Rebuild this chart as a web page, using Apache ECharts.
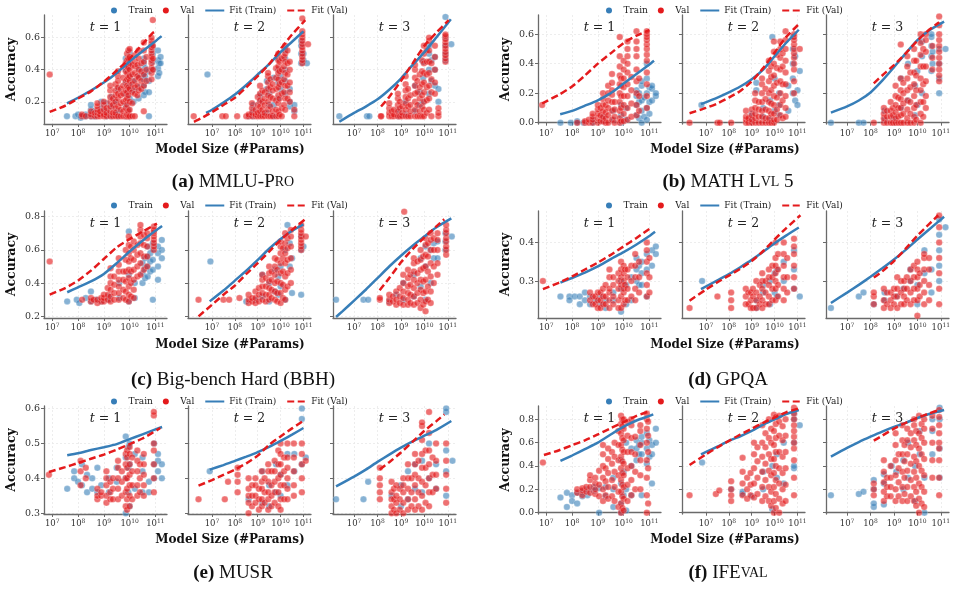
<!DOCTYPE html>
<html>
<head>
<meta charset="utf-8">
<script src="https://cdn.jsdelivr.net/npm/echarts@6/dist/echarts.min.js"></script>
<style>
  html, body { margin: 0; padding: 0; background: #fff; }
  #chart { width: 957px; height: 601px; }
</style>
</head>
<body>
<div id="chart"></div>
<script>
// each column: [log10(#params), accuracy %, accuracy %, ...]; one list per t = 1, 2, 3
const mmluTrain = [
  [[7.57,11],[7.9,11],[8.0,12],[8.1,10,11],[8.2,11],[8.3,11,12],[8.5,11,15,18],[8.6,11,14],[8.7,11,13],[8.9,12,16,20],[9.1,11,14,19],[9.3,11,17,23],[9.45,12,20],[9.55,11,14,28],[9.85,11,18,25,32,40,47],[9.95,15,28,42],[10.0,11,22,30,36,44,51],[10.15,20,27,33],[10.35,22,29,36,41],[10.55,24,30,34,38,44,47],[10.6,26,36,41],[10.75,11,26,33,39],[10.9,40,45,50,54],[11.1,36,41,46,52],[11.15,38,44],[11.2,44,48]],
  [[6.8,37],[8.6,11],[8.8,11,14,18],[9.1,12,20,24],[9.4,13,28,33],[9.5,18,25],[9.7,11,18,35],[9.9,22,32,40,47],[10.0,28,36],[10.2,25,33,40,47,52],[10.4,17,20,28],[10.6,14,18],[10.9,44,50,55,58],[11.0,46,50],[11.15,44]],
  [[6.37,11],[7.55,11],[7.65,11],[8.9,11,15],[9.2,12,20],[9.6,14,30],[9.8,18,26],[9.95,20,35,45],[10.2,25,40,50,55],[10.3,33,46],[10.45,30,40,48],[10.6,20,28],[10.9,46,50,55,60,73],[11.15,56]]
];
const mmluVal = [
  [[6.9,37],[8.15,11,12],[8.3,11],[8.5,11,12,14],[8.65,11,13],[8.75,11,13,15,17,19],[8.85,11,12,14],[9.0,11,12,15,18,20],[9.1,11,13,16],[9.25,11,14,17,20,23,27,30],[9.35,11,13,18,22],[9.45,11,13,16,20,24,27,31],[9.55,11,17,22,25,29,33,36,39],[9.65,11,15,19,24,28],[9.75,11,14,20,25,30,35],[9.85,11,16,21,27,33,39,44],[9.9,11,12,18,22,26,30,34,38,42,46,50],[9.95,11,14,24,29,35,41,47,52],[10.0,11,15,20,28,33,36,40,44,48,53],[10.1,11,19,26,31,37,43],[10.2,11,25,29,33,38,42,45,49],[10.3,24,30,36,43],[10.35,27,35,40,47,52],[10.45,28,33,39,44],[10.55,14,30,37,45,52,57],[10.65,33,40,48],[10.85,34,38,41,44,46,48,50,52,54,56,58,60],[10.9,40,47,55,71]],
  [[6.2,11],[7.45,11],[7.6,11],[8.1,11],[8.5,11],[8.6,11,12],[8.75,11,13,16,19],[8.9,11,12,15],[9.0,11,13,18,23],[9.1,11,14,17,21,25,30],[9.2,11,15,20,27],[9.3,11,13,18,22,26],[9.45,11,15,20,24,28,32,36,38],[9.55,11,17,23,29,34],[9.65,11,14,22,27,31],[9.8,11,15,21,28,35,41],[9.9,11,14,19,24,29,34,38,42,46,50],[9.95,12,22,31,39,45],[10.05,11,16,25,32,40,47],[10.15,18,26,34,42,48],[10.2,15,22,30,38,45,50,55],[10.3,22,30,37,44,52],[10.4,20,26,32,40,45],[10.6,11,15],[10.95,44,46,48,50,52,54,56,58,60,62,64,72],[11.2,56]],
  [[8.15,11,11],[8.5,11,13,16,19],[8.6,11,14],[8.7,11,12,15],[8.87,11,14,18,22,25],[8.95,11,16,20],[9.05,11,13,17],[9.2,11,15,19,23,27,31,36],[9.3,11,17,22,28],[9.4,11,14,18,24],[9.6,11,15,20,25,30,35,40,43],[9.7,11,18,26,33],[9.8,11,14,22,29,37],[9.9,11,17,24,31,39,46],[9.98,11,15,20,26,32,38,44,50,55],[10.1,13,21,29,37,45,52],[10.2,15,22,30,38,45,52,58,60],[10.3,11,26,34,44],[10.45,25,32,40,48,55],[10.6,11,13,16],[10.9,45,47,49,51,53,55,57,59,61,62]]
];
const mmluFitTrain = [
  [[7.57,.19],[8.0,.225],[8.5,.27],[9.0,.32],[9.5,.38],[10.0,.452],[10.5,.515],[11.0,.578],[11.24,.61]],
  [[6.74,.13],[7.0,.15],[7.5,.195],[8.0,.245],[8.5,.305],[9.0,.37],[9.5,.435],[10.0,.51],[10.5,.575],[11.0,.64]],
  [[6.37,.075],[7.0,.13],[7.5,.17],[8.0,.215],[8.5,.275],[9.0,.345],[9.5,.43],[10.0,.51],[10.5,.6],[11.13,.715]]
];
const mmluFitVal = [
  [[6.9,.137],[7.5,.175],[8.0,.22],[8.5,.265],[9.0,.325],[9.5,.395],[10.0,.47],[10.5,.56],[10.9,.63],[11.0,.64]],
  [[6.21,.075],[6.5,.095],[7.0,.135],[7.5,.18],[8.0,.225],[8.5,.29],[9.0,.36],[9.5,.435],[10.0,.53],[10.5,.62],[11.08,.71]],
  [[8.15,.17],[8.5,.23],[9.0,.33],[9.5,.44],[10.0,.55],[10.5,.63],[11.04,.71]]
];

const mathTrain = [
  [[7.55,0],[7.95,0],[8.2,0,1],[8.45,0],[8.8,0,2],[9.2,1,4],[9.6,2,8],[9.9,0,5,12],[10.1,2,10],[10.5,5,12,18,22],[10.6,3,14,20],[10.7,0,8,15,25,28],[10.8,4,17],[10.9,2,10,20,30,40],[11.0,6,14,24],[11.1,15,23,25],[11.25,18,20]],
  [[6.8,12],[9.0,2,6],[9.2,22,27],[9.5,4,10],[9.8,2,15],[9.9,58],[10.0,8,30],[10.2,5,12,20],[10.6,8,25],[10.8,20,30,40,50,58],[10.9,15,45],[11.0,12,22],[11.1,35]],
  [[6.31,0],[7.5,0],[7.7,0],[8.6,2,8],[9.0,3],[9.3,10,30],[9.6,15,40],[9.9,5,25],[10.0,12,35],[10.2,20,45,55],[10.6,35,45,52,58,60],[10.65,40,48],[10.93,20,30,40,50],[11.2,50]]
];
const mathVal = [
  [[6.84,12],[8.2,0],[8.5,0,1],[8.65,0,2],[8.8,0,2,4,6],[9.0,0,3,6,9,12],[9.1,1,5,10],[9.2,1,4,8,12,16,20],[9.3,0,3,7,12],[9.4,0,5,10,15,20,25],[9.55,2,8,14,19,22,27,33],[9.65,0,4,9,14],[9.85,0,3,8,14,20,26,32,38,45,58],[9.9,1,10,18,25,30],[10.0,1,6,12,18,24,30,36,42],[10.15,2,10,18,26,34,40,45,50,55],[10.3,4,13,22,31],[10.5,5,12,20,28,36,45,50,55,62],[10.6,8,18,30],[10.9,10,18,26,34,42,46,50,53,56,58,60,62]],
  [[6.28,0],[7.5,0],[7.6,0],[8.1,0],[8.75,0,2,4,8],[8.85,0,3],[9.0,0,2,5,9],[9.15,0,3,6,10,15,20],[9.3,0,4,9,14],[9.45,0,4,8,14,20,26,30],[9.6,0,3,9,16,23],[9.75,0,3,8,14,20,28,35,42],[9.85,0,6,13,22,31,38],[9.97,0,2,6,12,18,25,32,40,48,55],[10.1,2,9,17,27,37,46],[10.25,5,12,20,28,36,44,50,55],[10.35,3,15,26,38,47],[10.48,4,10,18,26,34,42,50,56,62],[10.85,20,28,36,40,44,47,50,53,56,58,60],[11.1,50]],
  [[8.14,0],[8.57,0,3,6,10],[8.7,0,4,8],[8.86,0,4,8,14],[8.95,0,5,10],[9.07,0,3,7,12,18,25],[9.18,0,4,10,17],[9.29,0,5,10,16,22,30,53],[9.4,0,6,13,20,27],[9.57,0,3,9,15,22,30,38,45],[9.7,0,6,14,24,34],[9.86,0,4,10,18,26,34,42,50],[9.95,2,12,22,32,42],[10.14,0,6,14,22,30,38,46,54,60],[10.25,4,14,26,38,50],[10.36,10,18,28,38,48,56,60],[10.64,36,44,52],[10.93,28,32,36,40,44,48,52,56,60,66,72]]
];
const mathFitTrain = [
  [[7.54,.057],[8.0,.08],[8.5,.115],[9.0,.152],[9.5,.2],[10.0,.265],[10.5,.33],[11.0,.395],[11.18,.42]],
  [[6.78,.126],[7.5,.17],[8.0,.205],[8.5,.245],[9.0,.295],[9.5,.36],[10.0,.45],[10.5,.54],[11.06,.63]],
  [[6.31,.068],[7.0,.11],[7.5,.15],[8.0,.205],[8.5,.285],[9.0,.376],[9.5,.47],[10.0,.56],[10.5,.625],[11.14,.685]]
];
const mathFitVal = [
  [[6.84,.13],[7.0,.145],[7.5,.19],[8.0,.245],[8.5,.32],[9.0,.4],[9.5,.47],[10.0,.54],[10.5,.59],[11.0,.628]],
  [[6.28,.064],[7.0,.1],[7.5,.13],[8.0,.17],[8.5,.215],[9.0,.28],[9.5,.37],[10.0,.475],[10.5,.58],[11.06,.668]],
  [[8.14,.267],[8.5,.32],[9.0,.39],[9.5,.47],[10.0,.555],[10.5,.63],[10.93,.68]]
];

const bbhTrain = [
  [[7.58,29],[7.95,30],[8.05,28],[8.3,31],[8.5,35,29],[8.7,30],[8.9,29],[9.2,30,32],[9.6,31,40],[9.97,29,45,71],[10.2,31,40],[10.5,40,46,52],[10.6,43,49,55],[10.7,44,50,56,62],[10.8,47,53,58],[10.9,30,48,54,60,64],[11.1,42,50,58,62],[11.25,55,60,66]],
  [[6.93,53],[8.5,29],[8.9,30],[9.2,32,45],[9.5,29,40],[9.75,35,48],[9.9,33,44],[10.0,38,50],[10.2,30,60],[10.3,75],[10.4,50,64],[10.5,34,55],[10.9,33,60,68],[11.0,62]],
  [[6.23,30],[7.4,30],[7.6,30],[8.5,29],[8.8,33],[9.1,30,40],[9.55,32,45],[9.84,38,55],[10.05,30,50,62],[10.27,40,60],[10.4,55,64],[10.56,55,65],[10.9,60,65,70],[11.17,68]]
];
const bbhVal = [
  [[6.9,53],[8.16,30],[8.5,29,31],[8.6,30],[8.75,28,30],[8.9,29,31],[9.0,29,31,33],[9.15,30,33,37],[9.26,29,32,36,40,44,49],[9.4,30,34,39,44],[9.58,30,34,38,42,47,51,55],[9.75,31,36,42,47],[9.85,30,35,41,47,54,60],[9.97,29,33,38,43,48,53,58,63,68],[10.05,32,40,47,55,62],[10.16,31,36,42,48,54,60,65],[10.3,44,50,57,63],[10.42,45,52,58,64,68,72,75],[10.55,48,56,63,69],[10.68,50,56,62,67,70],[10.94,60,62,64,66,68,70,71,72,74]],
  [[6.41,30],[7.5,30],[7.75,30],[8.2,31],[8.6,28,30,33],[8.75,29,31],[8.9,28,31,35],[9.05,29,33,37],[9.2,30,34,38,42,45],[9.35,29,33,38,43],[9.5,30,33,37,41,46,50],[9.6,31,36,42,47],[9.75,30,35,40,45,50,55],[9.85,29,34,41,48,54],[10.0,28,34,40,46,52,58,62,65],[10.1,31,39,47,55,61],[10.2,30,36,44,52,58,64,70],[10.3,38,46,54,61,67],[10.45,40,48,55,62,68,72],[10.9,60,62,64,66,68,70,72,75],[11.1,68]],
  [[8.1,30,31],[8.5,28,30,33],[8.65,29,32],[8.8,27,30,35],[8.95,28,32,37],[9.1,27,31,35,40,45],[9.14,83],[9.3,27,30,34,38,43,48],[9.4,28,33,39,45],[9.55,27,32,37,42,47,52,55],[9.7,28,34,40,46,53],[9.84,25,30,36,42,48,54,60],[9.95,27,34,41,49,56],[10.05,23,29,35,42,50,57,63,67],[10.15,30,38,47,56,64],[10.27,28,35,44,52,60,66,70],[10.4,40,50,60,67],[10.56,45,52,60,66,70],[10.93,57,60,62,65,67,70,72,75]]
];
const bbhFitTrain = [
  [[7.58,.345],[8.0,.375],[8.5,.41],[9.0,.455],[9.5,.52],[10.0,.59],[10.5,.655],[11.0,.715],[11.26,.744]],
  [[6.9,.29],[7.5,.355],[8.0,.415],[8.5,.475],[9.0,.54],[9.5,.607],[10.0,.665],[10.5,.715],[11.0,.754]],
  [[6.23,.196],[6.5,.23],[7.0,.295],[7.5,.36],[8.0,.43],[8.5,.5],[9.0,.565],[9.5,.625],[10.0,.68],[10.5,.735],[11.15,.79]]
];
const bbhFitVal = [
  [[6.9,.331],[7.5,.37],[8.0,.415],[8.5,.475],[9.0,.545],[9.5,.615],[10.0,.665],[10.5,.71],[11.06,.758]],
  [[6.41,.2],[7.0,.27],[7.5,.33],[8.0,.385],[8.5,.455],[9.0,.52],[9.5,.59],[10.0,.66],[10.5,.72],[11.07,.784]],
  [[8.09,.357],[8.5,.43],[9.0,.525],[9.5,.605],[10.0,.675],[10.5,.74],[10.85,.784]]
];

const gpqaTrain = [
  [[7.55,26],[7.9,26,25],[8.1,26],[8.3,24,26],[8.5,25,27],[8.7,26,24],[8.9,25],[9.1,24,26],[9.3,25,23],[9.6,25,27],[9.9,22,28,30],[10.1,24,29],[10.3,25,31],[10.5,30,33,36],[10.6,29,34],[10.7,29,32,35],[10.9,26,33,37],[11.1,34,38],[11.25,37,39]],
  [[6.83,30],[9.2,23,25],[9.5,27,29],[9.8,24,30],[10.0,27,32],[10.1,26,33],[10.4,30,35],[10.85,28,33,38],[11.1,26]],
  [[6.31,23],[7.5,26],[7.7,27],[8.14,24],[8.6,25,27],[9.1,26],[9.4,28],[9.7,30,33],[10.0,24,29],[10.3,32,38],[10.6,27,33],[10.93,30,34,38,42,46],[11.2,44]]
];
const gpqaVal = [
  [[6.87,30],[8.7,25,27],[8.8,24,26],[8.9,24,26],[9.0,23,25,27],[9.1,23,25,27],[9.2,24,26,28],[9.3,24,26,29],[9.45,23,25,27,28,31,33],[9.6,24,26,29,31],[9.8,23,25,28,30,32],[9.9,23,26,29,31,33,35],[10.0,24,27,28,30,32,34],[10.05,25,29,33],[10.15,25,28,31,33],[10.3,26,30,34],[10.45,25,28,31,34,37],[10.6,27,31,35],[10.9,26,29,32,35,38,40],[11.0,27,31,36]],
  [[6.28,23],[7.5,26],[8.1,23,25,27],[8.74,24,26,28],[8.85,24,27],[8.96,23,25,27],[9.05,23,26,28],[9.2,23,25,27,30],[9.35,24,26,29],[9.46,23,25,28,30,32],[9.6,24,27,30],[9.75,24,26,29,31,33],[9.9,25,28,31,34],[10.04,25,28,30,32,34,36,40],[10.15,26,29,33,37],[10.4,25,28,31,34,37,40],[10.55,27,31,36],[10.85,28,31,34,37,39,41]],
  [[8.14,24,26,27],[8.57,23,25,28],[8.7,24,27],[8.86,23,25,27],[9.0,24,26,28],[9.14,23,26,28,31],[9.3,24,27,30],[9.43,24,26,28,30],[9.55,25,28,31],[9.71,24,27,30,33],[9.85,25,28,31,34],[10.0,21,25,28,31,33,35],[10.1,26,29,32],[10.29,24,27,30,33,36,37],[10.5,25,29,33,36],[10.93,24,28,32,36,40,44,47]]
];
const gpqaFitTrain = [
  [[7.55,.296],[8.0,.308],[8.5,.322],[9.0,.338],[9.5,.357],[10.0,.375],[10.5,.395],[11.0,.417],[11.22,.428]],
  [[6.78,.279],[7.5,.302],[8.0,.318],[8.5,.336],[9.0,.355],[9.5,.376],[10.0,.398],[10.5,.418],[11.06,.439]],
  [[6.31,.243],[7.0,.27],[7.5,.29],[8.0,.311],[8.5,.333],[9.0,.356],[9.5,.381],[10.0,.408],[10.5,.434],[11.14,.467]]
];
const gpqaFitVal = [
  [[6.87,.279],[7.5,.296],[8.0,.312],[8.5,.33],[9.0,.348],[9.5,.368],[10.0,.39],[10.5,.412],[11.03,.437]],
  [[6.28,.249],[7.0,.278],[7.5,.297],[8.0,.314],[8.5,.332],[9.0,.352],[9.5,.378],[10.0,.408],[10.5,.437],[11.13,.471]],
  [[8.14,.309],[8.5,.325],[9.0,.352],[9.5,.384],[10.0,.418],[10.5,.448],[10.89,.471]]
];

const musrTrain = [
  [[7.58,37],[7.85,40,42],[8.0,39],[8.15,38,44],[8.35,36,41],[8.55,37,40],[8.75,36,43],[8.9,38],[9.2,36,40],[9.5,39,43],[9.85,30,40,46,52],[9.95,36,43,49],[10.0,32,44,50],[10.2,37,47],[10.5,36,42,46],[10.75,36,39],[10.95,40,44,50],[11.1,42,45,47],[11.25,40,44]],
  [[6.9,42],[8.6,34],[9.2,33,42],[9.5,32,38],[9.8,36,44],[10.0,35,41],[10.3,38,47],[10.6,42,47],[10.93,44,57,60],[11.1,46]],
  [[6.23,34],[7.4,34],[7.6,39],[8.6,35],[9.0,32,38],[9.3,34,42],[9.6,37,44],[9.9,36,45],[10.2,40,50],[10.5,37,44],[10.93,35,42,48,59,60],[11.2,45]]
];
const musrVal = [
  [[6.87,41],[8.1,38,42,45],[8.3,40,43],[8.75,34,35,37],[8.9,35,36],[9.1,33,35,38,40,42],[9.25,34,36,39],[9.35,34,37,40],[9.55,34,37,40,43,45],[9.7,35,39,42],[9.85,32,36,40,44,47],[9.9,31,34,37,40,43,46,48],[10.0,32,35,38,41,44,47,49],[10.1,34,38,42,46],[10.3,35,38,42,45,48],[10.4,36,40,44],[10.55,35,38,41,44,47],[10.94,36,40,44,48,50,58,59]],
  [[6.41,34],[7.56,34],[7.7,39],[8.12,36,39,41,43],[8.6,30,33,35,37,40],[8.75,32,35,38],[8.9,33,35,38,40],[9.05,31,34,37],[9.18,32,34,37,39,42],[9.3,33,36,40],[9.46,31,34,36,39,42,44],[9.6,32,35,38,42],[9.74,33,36,39,42,45],[9.9,32,36,40,44,48],[10.0,31,34,38,41,44,47,50],[10.15,34,38,42,46],[10.3,34,37,40,43,46,50],[10.58,35,38,42,46,50],[10.93,36,40,44,47,50],[11.1,45]],
  [[8.1,34,36,38,40,43],[8.6,30,32,34,36,39],[8.7,31,34,37],[8.8,30,33,35,38],[8.95,31,34,37],[9.1,30,33,36,38,40],[9.3,31,34,37,40,44],[9.45,32,36,40],[9.6,31,34,38,41,44,47],[9.75,32,36,40,45],[9.9,31,35,39,43,47,51,55,56],[10.05,33,38,43,48],[10.2,32,36,40,44,48,53,59],[10.35,36,41,46],[10.5,37,41,45,50],[10.93,33,37,41,45,50]]
];
const musrFitTrain = [
  [[7.58,.466],[8.0,.472],[8.5,.481],[9.0,.489],[9.5,.498],[10.0,.512],[10.5,.526],[11.0,.54],[11.26,.547]],
  [[6.9,.425],[7.5,.438],[8.0,.45],[8.5,.462],[9.0,.475],[9.5,.49],[10.0,.507],[10.5,.525],[11.0,.544]],
  [[6.23,.377],[7.0,.405],[7.5,.425],[8.0,.447],[8.5,.468],[9.0,.488],[9.5,.506],[10.0,.522],[10.5,.538],[11.15,.564]]
];
const musrFitVal = [
  [[6.87,.418],[7.5,.432],[8.0,.444],[8.5,.456],[9.0,.468],[9.5,.482],[10.0,.498],[10.5,.514],[11.19,.544]],
  [[6.41,.379],[7.0,.395],[7.5,.41],[8.0,.425],[8.5,.443],[9.0,.465],[9.5,.496],[10.0,.52],[10.5,.543],[11.0,.565]],
  [[8.09,.425],[8.5,.446],[9.0,.474],[9.5,.505],[10.0,.536],[10.5,.563],[10.85,.583]]
];

const ifevalTrain = [
  [[7.55,13],[7.8,5,17],[8.0,15,10],[8.2,17,8],[8.4,18,14],[8.6,20,15],[8.85,22,19],[9.05,0,21],[9.3,14,22],[9.6,5,20,30],[9.9,0,8,25,45],[10.0,15,35],[10.1,2,20,60],[10.3,15,40,55],[10.5,45,55,62],[10.6,50,58],[10.7,15,50,60,65],[10.9,42,55,68],[11.0,48,62],[11.1,25,50,58],[11.25,60,72]],
  [[6.83,43],[8.1,20],[8.6,16,18],[9.0,14],[9.5,20,35],[9.9,3,40],[10.1,30,50],[10.4,25,60],[10.85,38,40,60,80,85],[11.1,75]],
  [[6.31,15],[7.5,16],[7.7,18],[8.14,5,8,20,28],[8.57,7,25,33],[8.9,40],[9.1,35],[9.4,20,45],[9.6,30,60],[9.9,10,40],[10.1,50,70],[10.3,0,30],[10.64,50,70,80],[10.95,30,55,80,90]]
];
const ifevalVal = [
  [[6.87,43],[8.2,17,20],[8.4,15,19,21],[8.55,18,22],[8.7,17,22,28,32],[8.9,16,20,25,30],[9.05,14,24,36],[9.2,10,20,30,40,50,58],[9.3,15,27,38],[9.4,12,22,34,46,55],[9.55,14,28,42,52],[9.65,10,22,35,48,60],[9.8,5,18,32,45,58,70],[9.9,0,8,18,28,38,48,58,68,76,83],[9.95,4,14,24,34,44,54,64,74,80],[10.0,2,12,22,32,42,52,62,72,80],[10.15,10,24,38,52,66,78],[10.3,15,28,40,52,64,75,80],[10.45,20,35,50,65],[10.65,20,32,45,58,70,75],[10.9,0,15,30,45,60,72,80,85],[10.95,8,38,52,66,78]],
  [[6.28,15],[7.43,16],[7.58,19],[8.1,10,15,20,27],[8.6,15,25,35,47],[8.8,12,20,30],[8.95,15,24,34],[9.1,13,25,38,50,60],[9.25,16,30,44,56],[9.46,10,22,35,48,60,75],[9.6,14,28,42,56,68],[9.75,10,22,36,50,64,80],[9.85,6,18,32,46,60,72],[9.97,0,10,22,34,46,58,70,84],[10.05,4,16,28,40,52,64,76,82],[10.2,0,12,25,38,52,66,78,83],[10.35,8,20,34,48,62,74],[10.48,10,24,38,52,66,80],[10.85,15,30,45,55,60,65,70,75,80,85,90]],
  [[8.14,15,20,25],[8.57,10,18,26,35,45],[8.7,14,22,30],[8.86,14,22,30,40],[9.07,10,20,32,45,58,68],[9.2,14,26,38,50],[9.36,10,22,35,50,62,75],[9.45,16,30,44,58],[9.57,10,22,36,50,62,72],[9.72,14,28,42,56,68],[9.86,10,22,35,48,62,75,80],[9.95,6,18,30,44,58,70],[10.07,0,12,25,40,55,68,83],[10.18,8,22,36,50,64,76],[10.29,5,18,32,46,60,72,80],[10.64,30,45,60,72,83],[10.93,15,30,45,55,60,68,75,82,88]]
];
const ifevalFitTrain = [
  [[7.55,.443],[8.0,.49],[8.5,.545],[9.0,.6],[9.5,.67],[10.0,.737],[10.5,.79],[11.0,.83],[11.15,.843]],
  [[6.78,.5],[7.5,.565],[8.0,.615],[8.5,.655],[9.0,.7],[9.5,.755],[10.0,.8],[10.5,.845],[11.06,.88]],
  [[6.31,.48],[7.0,.555],[7.5,.605],[8.0,.651],[8.5,.695],[9.0,.735],[9.5,.77],[10.0,.81],[10.5,.845],[11.14,.88]]
];
const ifevalFitVal = [
  [[6.91,.494],[7.5,.535],[8.0,.578],[8.5,.62],[9.0,.67],[9.5,.724],[10.0,.775],[10.5,.83],[11.03,.871]],
  [[6.28,.409],[7.0,.5],[7.5,.56],[8.0,.615],[8.5,.67],[9.0,.72],[9.5,.77],[10.0,.815],[10.5,.86],[11.06,.894]],
  [[8.14,.617],[8.5,.66],[9.0,.72],[9.5,.77],[10.0,.812],[10.5,.85],[10.93,.88]]
];

const xTickExps = [7, 8, 9, 10, 11];
const tLabels = ['1', '2', '3'];

const FONT = 'DejaVu Serif';
const CAPFONT = 'Liberation Serif';
const BLUE = '#377eb8';
const RED = '#e41a1c';
const AXC = '#6a6a6a';

const panels = [
  { cap: '{b|(a)} MMLU-P{s|RO}', train: mmluTrain, val: mmluVal, fitT: mmluFitTrain, fitV: mmluFitVal, ymin: 0.061, ymax: 0.742, yticks: [0.2, 0.4, 0.6] },
  { cap: '{b|(b)} MATH L{s|VL} 5', train: mathTrain, val: mathVal, fitT: mathFitTrain, fitV: mathFitVal, ymin: -0.009, ymax: 0.73, yticks: [0, 0.2, 0.4, 0.6] },
  { cap: '{b|(c)} Big-bench Hard (BBH)', train: bbhTrain, val: bbhVal, fitT: bbhFitTrain, fitV: bbhFitVal, ymin: 0.19, ymax: 0.834, yticks: [0.2, 0.4, 0.6, 0.8] },
  { cap: '{b|(d)} GPQA', train: gpqaTrain, val: gpqaVal, fitT: gpqaFitTrain, fitV: gpqaFitVal, ymin: 0.204, ymax: 0.482, yticks: [0.3, 0.4] },
  { cap: '{b|(e)} MUSR', train: musrTrain, val: musrVal, fitT: musrFitTrain, fitV: musrFitVal, ymin: 0.298, ymax: 0.607, yticks: [0.3, 0.4, 0.5, 0.6] },
  { cap: '{b|(f)} IFE{s|VAL}', train: ifevalTrain, val: ifevalVal, fitT: ifevalFitTrain, fitV: ifevalFitVal, ymin: -0.011, ymax: 0.914, yticks: [0, 0.2, 0.4, 0.6, 0.8] }
];

// layout
const colLefts = [[44, 188, 333], [538, 682, 826]];
const gridW = 123;
const rowTops = [15, 211, 406];
const rowHs = [109, 107, 108];
const xRanges = [[6.68, 11.45], [5.95, 11.33], [6.1, 11.35]];
const colCenter = [233, 728];
const legendLeft = [111, 606];
const legendTop = [6, 201, 397];
const accX = [12, 506];
const xNameY = [150, 345, 540];
const capY = [182, 380, 573];

function toPoints(cols) {
  const out = [];
  cols.forEach(c => {
    for (let k = 1; k < c.length; k++) out.push([c[0], c[k] / 100]);
  });
  return out;
}

const grids = [], xAxes = [], yAxes = [], series = [], legends = [], graphics = [];
const gridLine = { show: true, lineStyle: { color: '#e9e9e9', type: [2, 2], width: 0.8 } };

panels.forEach((p, pi) => {
  const col = pi % 2, row = Math.floor(pi / 2);
  for (let t = 0; t < 3; t++) {
    const gi = pi * 3 + t;
    const left = colLefts[col][t];
    grids.push({ left: left, top: rowTops[row], width: gridW, height: rowHs[row], outerBoundsMode: 'none' });
    xAxes.push({
      type: 'value', gridIndex: gi, min: xRanges[t][0], max: xRanges[t][1],
      axisLine: { show: true, lineStyle: { color: AXC, width: 1.3 } },
      axisTick: { show: true, customValues: xTickExps, length: 3, lineStyle: { color: AXC } },
      axisLabel: {
        customValues: xTickExps, margin: 4,
        formatter: v => '{b|10}{s|' + v + '}',
        rich: {
          b: { fontFamily: FONT, fontSize: 8.5, color: '#333', verticalAlign: 'bottom' },
          s: { fontFamily: FONT, fontSize: 6, color: '#333', verticalAlign: 'bottom', padding: [0, 0, 4, 0] }
        }
      },
      splitLine: gridLine
    });
    yAxes.push({
      type: 'value', gridIndex: gi, min: p.ymin, max: p.ymax,
      axisLine: { show: true, lineStyle: { color: AXC, width: 1.3 } },
      axisTick: { show: true, customValues: p.yticks, length: 3, lineStyle: { color: AXC } },
      axisLabel: {
        show: t === 0, customValues: p.yticks, margin: 4,
        fontFamily: FONT, fontSize: 9.5, color: '#333',
        formatter: v => v.toFixed(1)
      },
      splitLine: gridLine
    });
    series.push({
      type: 'scatter', name: 'Train', xAxisIndex: gi, yAxisIndex: gi,
      data: toPoints(p.train[t]), symbolSize: 6.5, z: 2,
      itemStyle: { color: BLUE, opacity: 0.6, borderColor: '#fff', borderWidth: 0.4 }
    });
    series.push({
      type: 'scatter', name: 'Val', xAxisIndex: gi, yAxisIndex: gi,
      data: toPoints(p.val[t]), symbolSize: 6.5, z: 3,
      itemStyle: { color: RED, opacity: 0.62, borderColor: '#fff', borderWidth: 0.4 }
    });
    series.push({
      type: 'line', name: 'Fit (Train)', xAxisIndex: gi, yAxisIndex: gi,
      data: p.fitT[t], smooth: 0.2, symbol: 'none', z: 4,
      lineStyle: { color: BLUE, width: 2.5 }, itemStyle: { color: BLUE }
    });
    series.push({
      type: 'line', name: 'Fit (Val)', xAxisIndex: gi, yAxisIndex: gi,
      data: p.fitV[t], smooth: 0.2, symbol: 'none', z: 5,
      lineStyle: { color: RED, width: 2.5, type: [7, 3.5] }, itemStyle: { color: RED }
    });
    graphics.push({
      type: 'text', x: left + gridW / 2, y: rowTops[row] + 13, z: 10,
      style: {
        text: '{i|t} = ' + tLabels[t], textAlign: 'center', textVerticalAlign: 'middle',
        font: '12.5px "' + FONT + '"', fill: '#222',
        rich: { i: { fontStyle: 'italic', fontFamily: FONT, fontSize: 12.5, fill: '#222' } }
      }
    });
  }
  legends.push({
    left: legendLeft[col], top: legendTop[row], padding: 0,
    itemWidth: 19, itemHeight: 6, itemGap: 10,
    textStyle: { fontFamily: FONT, fontSize: 9, color: '#222' },
    data: [
      { name: 'Train', icon: 'circle', itemStyle: { opacity: 1, borderWidth: 0 } },
      { name: 'Val', icon: 'circle', itemStyle: { opacity: 1, borderWidth: 0 } },
      { name: 'Fit (Train)', itemStyle: { opacity: 0 } },
      { name: 'Fit (Val)', itemStyle: { opacity: 0 } }
    ],
    selectedMode: false
  });
  graphics.push({
    type: 'text', x: accX[col], y: rowTops[row] + rowHs[row] / 2, rotation: Math.PI / 2,
    style: { text: 'Accuracy', textAlign: 'center', textVerticalAlign: 'middle', font: 'bold 12.5px "' + FONT + '"', fill: '#111' }
  });
  graphics.push({
    type: 'text', x: colCenter[col] - 3, y: xNameY[row],
    style: { text: 'Model Size (#Params)', textAlign: 'center', textVerticalAlign: 'middle', font: 'bold 12px "' + FONT + '"', fill: '#111' }
  });
  graphics.push({
    type: 'text', x: colCenter[col], y: capY[row],
    style: {
      text: p.cap, textAlign: 'center', textVerticalAlign: 'middle',
      font: '19px "' + CAPFONT + '"', fill: '#111',
      rich: {
        b: { fontFamily: CAPFONT, fontWeight: 'bold', fontSize: 19, fill: '#111' },
        s: { fontFamily: CAPFONT, fontSize: 14, fill: '#111' }
      }
    }
  });
});

const chart = echarts.init(document.getElementById('chart'));
chart.setOption({
  animation: false,
  backgroundColor: '#fff',
  grid: grids,
  xAxis: xAxes,
  yAxis: yAxes,
  legend: legends,
  series: series,
  graphic: graphics
});
</script>
</body>
</html>
